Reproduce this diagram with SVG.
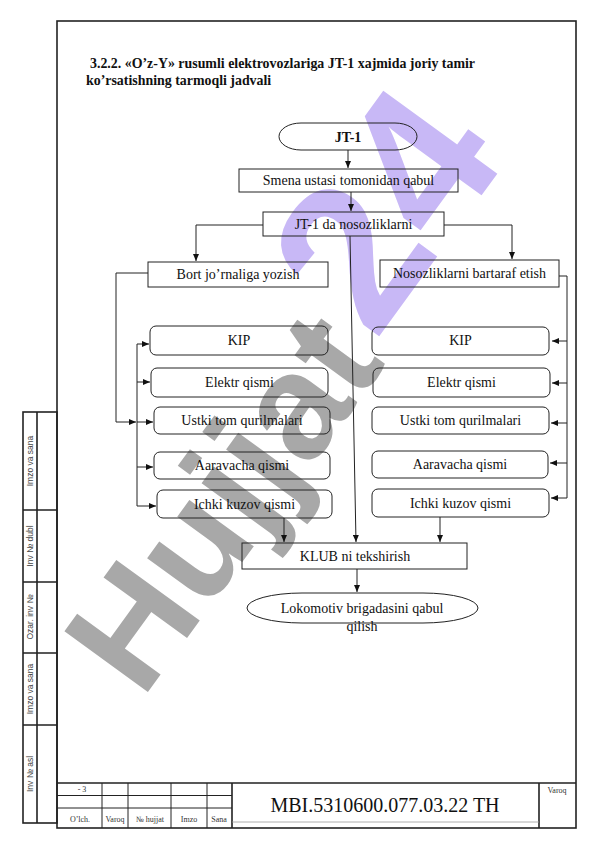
<svg xmlns="http://www.w3.org/2000/svg" width="596" height="842" viewBox="0 0 596 842">
<style>
.t{font-family:"Liberation Serif","Times New Roman",serif;font-size:14px;fill:#111;text-anchor:middle}
.b{fill:none;stroke:#222;stroke-width:1}
.c{fill:none;stroke:#222;stroke-width:1}
.f{fill:none;stroke:#222;stroke-width:1.6}
.s{font-family:"Liberation Serif","Times New Roman",serif;font-size:8px;fill:#333;text-anchor:middle}
.v{font-family:"Liberation Sans",Arial,sans-serif;font-size:8.5px;fill:#444;text-anchor:middle}
.wm{font-family:"Liberation Sans",Arial,sans-serif;font-weight:bold}
.h{font-family:"Liberation Serif","Times New Roman",serif;font-weight:bold;font-size:13.9px;fill:#111}
</style>
<defs>
<marker id="a" viewBox="0 0 7 6" refX="7" refY="3" markerWidth="7" markerHeight="6" markerUnits="userSpaceOnUse" orient="auto"><path d="M0,0 L7,3 L0,6 z" fill="#111"/></marker>
</defs>
<g id="watermark">
<text class="wm" font-size="150" fill="#a8a8a8" transform="translate(142,700) rotate(-54)">Hujjat</text>
<text class="wm" font-size="205" fill="#c8b8f6" transform="translate(375,342) rotate(-54)">24</text>
</g>
<g id="frame">
<rect class="f" x="57" y="21" width="519" height="807"/>
</g>
<g id="title">
<text class="h" x="90" y="68">3.2.2. «O’z-Y» rusumli elektrovozlariga JT-1 xajmida joriy tamir</text>
<text class="h" x="86" y="85">ko’rsatishning tarmoqli jadvali</text>
</g>
<g id="connectors">
<path class="c" d="M348,150 V168" marker-end="url(#a)"/>
<path class="c" d="M351,192 V211" marker-end="url(#a)"/>
<path class="c" d="M263,225 H196 V261" marker-end="url(#a)"/>
<path class="c" d="M444,225 H512 V259" marker-end="url(#a)"/>
<path class="c" d="M350,236 L356,542" marker-end="url(#a)"/>
<path class="c" d="M148,273 H116 V422 H136" marker-end="url(#a)"/>
<path class="c" d="M137,344 V506"/>
<path class="c" d="M137,344 H149" marker-end="url(#a)"/>
<path class="c" d="M137,382 H150" marker-end="url(#a)"/>
<path class="c" d="M137,422 H153" marker-end="url(#a)"/>
<path class="c" d="M137,467 H153" marker-end="url(#a)"/>
<path class="c" d="M137,506 H156" marker-end="url(#a)"/>
<path class="c" d="M559,276 H567 V498"/>
<path class="c" d="M567,341 H552" marker-end="url(#a)"/>
<path class="c" d="M567,383 H552" marker-end="url(#a)"/>
<path class="c" d="M567,423 H551" marker-end="url(#a)"/>
<path class="c" d="M567,463 H550" marker-end="url(#a)"/>
<path class="c" d="M567,498 H551" marker-end="url(#a)"/>
<path class="c" d="M284,518 V542" marker-end="url(#a)"/>
<path class="c" d="M440,517 V542" marker-end="url(#a)"/>
<path class="c" d="M357,569 V592" marker-end="url(#a)"/>
</g>
<g id="n-jt1"><rect class="b" x="279" y="123" width="138" height="27" rx="22" ry="13.5"/><text class="t" font-weight="bold" x="348" y="142">JT-1</text></g>
<g id="n-smena"><rect class="b" x="239" y="169" width="219" height="23"/><text class="t" x="348.5" y="185">Smena ustasi tomonidan qabul</text></g>
<g id="n-nosoz"><rect class="b" x="263" y="212" width="181" height="24"/><text class="t" x="353.5" y="229">JT-1 da nosozliklarni</text></g>
<g id="n-bort"><rect class="b" x="148" y="262" width="180" height="25"/><text class="t" x="238" y="279">Bort jo’rnaliga yozish</text></g>
<g id="n-bartaraf"><rect class="b" x="380" y="260" width="179" height="27"/><text class="t" x="469.5" y="278">Nosozliklarni bartaraf etish</text></g>
<g id="n-l-kip"><rect class="b" x="150" y="326" width="178" height="29" rx="6"/><text class="t" x="239" y="345">KIP</text></g>
<g id="n-l-elektr"><rect class="b" x="151" y="368" width="177" height="29" rx="6"/><text class="t" x="239.5" y="387">Elektr qismi</text></g>
<g id="n-l-ustki"><rect class="b" x="154" y="407" width="176" height="27" rx="6"/><text class="t" x="242" y="425">Ustki tom qurilmalari</text></g>
<g id="n-l-aarav"><rect class="b" x="154" y="452" width="176" height="27" rx="6"/><text class="t" x="242" y="470">Aaravacha qismi</text></g>
<g id="n-l-ichki"><rect class="b" x="157" y="490" width="175" height="28" rx="6"/><text class="t" x="244.5" y="509">Ichki kuzov qismi</text></g>
<g id="n-r-kip"><rect class="b" x="372" y="327" width="177" height="28" rx="6"/><text class="t" x="460.5" y="345">KIP</text></g>
<g id="n-r-elektr"><rect class="b" x="373" y="368" width="177" height="29" rx="6"/><text class="t" x="461.5" y="387">Elektr qismi</text></g>
<g id="n-r-ustki"><rect class="b" x="372" y="407" width="177" height="27" rx="6"/><text class="t" x="460.5" y="425">Ustki tom qurilmalari</text></g>
<g id="n-r-aarav"><rect class="b" x="372" y="451" width="176" height="27" rx="6"/><text class="t" x="460" y="469">Aaravacha qismi</text></g>
<g id="n-r-ichki"><rect class="b" x="372" y="489" width="177" height="28" rx="6"/><text class="t" x="460.5" y="508">Ichki kuzov qismi</text></g>
<g id="n-klub"><rect class="b" x="242" y="543" width="225" height="26"/><text class="t" x="355" y="561">KLUB ni tekshirish</text></g>
<g id="n-lokomotiv"><rect class="b" x="247" y="593" width="231" height="30" rx="55" ry="15"/><text class="t" x="362" y="613">Lokomotiv brigadasini qabul</text><text class="t" x="362" y="631">qilish</text></g>
<g id="titleblock">
<path class="f" d="M57,783 H576 M232,783 V828 M539,783 V828"/>
<path class="c" d="M57,795.5 H232 M57,808 H232 M102,783 V828 M128,783 V828 M171,783 V828 M207,783 V828"/>
<path stroke="#999" stroke-width="0.8" fill="none" d="M232,822 H539"/>
<text class="s" x="82" y="792">- 3</text>
<text class="s" x="80" y="822">O’lch.</text>
<text class="s" x="115" y="822">Varoq</text>
<text class="s" x="150" y="822">№ hujjat</text>
<text class="s" x="189" y="822">Imzo</text>
<text class="s" x="219" y="822">Sana</text>
<text class="s" x="557" y="793">Varoq</text>
<text font-family="Liberation Serif,serif" font-size="20" fill="#111" text-anchor="middle" x="385" y="812">MBI.5310600.077.03.22 TH</text>
</g>
<g id="stamp">
<rect class="f" x="23" y="412" width="34" height="411"/>
<path class="f" d="M37,412 V823 M23,510 H57 M23,582 H57 M23,653 H57 M23,725 H57"/>
<text class="v" transform="translate(33,461) rotate(-90)">Imzo va sana</text>
<text class="v" transform="translate(33,546) rotate(-90)">Inv № dubl</text>
<text class="v" transform="translate(33,617) rotate(-90)">Ozar. inv №</text>
<text class="v" transform="translate(33,689) rotate(-90)">Imzo va sana</text>
<text class="v" transform="translate(33,774) rotate(-90)">Inv № asl</text>
</g>
</svg>
